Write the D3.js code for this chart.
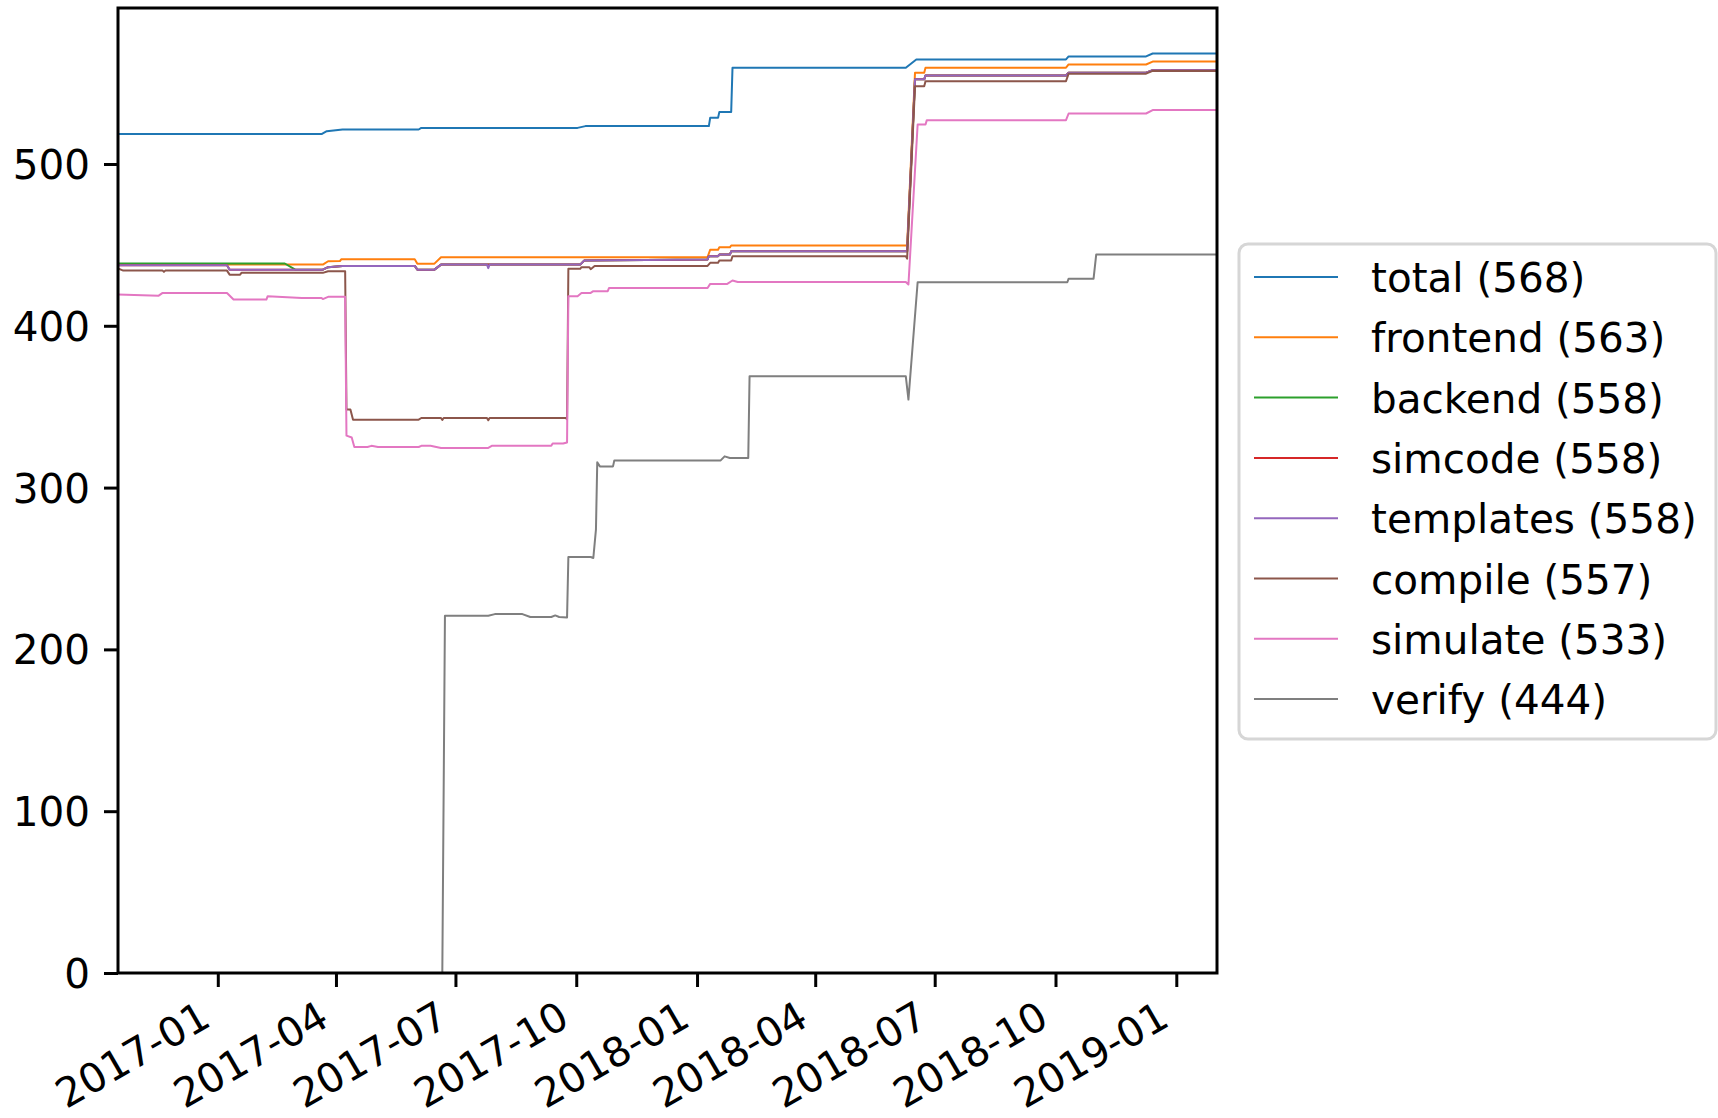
<!DOCTYPE html>
<html>
<head>
<meta charset="utf-8">
<script src="https://cdn.jsdelivr.net/npm/d3@7"></script>
<style>
  body { margin: 0; background: #fff; }
  svg { display: block; font-family: "DejaVu Sans", sans-serif; }
</style>
</head>
<body>
<div id="chart"></div>
<script>
// series names, final counts (legend) and matplotlib tab10 colours
const names = ['total', 'frontend', 'backend', 'simcode', 'templates', 'compile', 'simulate', 'verify']
const counts = [568, 563, 558, 558, 558, 557, 533, 444]
const colors = ['#1f77b4', '#ff7f0e', '#2ca02c', '#d62728', '#9467bd', '#8c564b', '#e377c2', '#7f7f7f']

// [date, number of passing tests] breakpoints
const total = [
  ['2016-10-17', 518.5], ['2017-03-21', 518.5], ['2017-03-25', 520.3], ['2017-04-06', 521.3],
  ['2017-06-03', 521.3], ['2017-06-05', 522.3], ['2017-10-02', 522.3], ['2017-10-08', 523.4],
  ['2018-01-10', 523.4], ['2018-01-11', 528.5], ['2018-01-17', 528.5], ['2018-01-18', 532.2],
  ['2018-01-27', 532.2], ['2018-01-28', 559.5], ['2018-06-09', 559.5], ['2018-06-17', 564.6],
  ['2018-10-09', 564.6], ['2018-10-11', 566.5], ['2018-12-09', 566.5], ['2018-12-14', 568.3],
  ['2019-02-01', 568.3]
]
const frontend = [
  ['2016-10-17', 437.8], ['2017-03-22', 437.8], ['2017-03-26', 439.9], ['2017-04-04', 440],
  ['2017-04-05', 441.1], ['2017-05-31', 441.1], ['2017-06-02', 438.4], ['2017-06-15', 438.4],
  ['2017-06-20', 442.4], ['2018-01-09', 442.4], ['2018-01-11', 447], ['2018-01-17', 447],
  ['2018-01-18', 448.5], ['2018-01-26', 448.5], ['2018-01-27', 449.6], ['2018-06-10', 449.6],
  ['2018-06-16', 556.4], ['2018-06-23', 556.4], ['2018-06-24', 559.5], ['2018-10-09', 559.5],
  ['2018-10-11', 561.5], ['2018-12-09', 561.5], ['2018-12-14', 563.3], ['2019-02-01', 563.3]
]
const backend = [
  ['2016-10-17', 438.5], ['2017-02-21', 438.5], ['2017-03-01', 434.7], ['2017-03-22', 434.7],
  ['2017-03-26', 436.2], ['2017-04-06', 437], ['2017-05-31', 437], ['2017-06-02', 434.7],
  ['2017-06-15', 434.7], ['2017-06-20', 437.8], ['2017-10-04', 437.8], ['2017-10-07', 440.3],
  ['2018-01-09', 441], ['2018-01-10', 443], ['2018-01-17', 443], ['2018-01-18', 444],
  ['2018-01-26', 444], ['2018-01-27', 446], ['2018-06-10', 446], ['2018-06-16', 552.3],
  ['2018-06-23', 552.3], ['2018-06-24', 554.7], ['2018-10-09', 554.7], ['2018-10-11', 556.4],
  ['2018-12-09', 556.4], ['2018-12-14', 558], ['2019-02-01', 558]
]
const simcode = [
  ['2016-10-17', 437.4], ['2017-01-08', 437.4], ['2017-01-10', 434.7], ['2017-03-22', 434.7],
  ['2017-03-26', 436.2], ['2017-04-06', 437], ['2017-05-31', 437], ['2017-06-02', 434.7],
  ['2017-06-15', 434.7], ['2017-06-20', 437.8], ['2017-10-04', 437.8], ['2017-10-07', 440.3],
  ['2018-01-09', 441], ['2018-01-10', 443], ['2018-01-17', 443], ['2018-01-18', 444],
  ['2018-01-26', 444], ['2018-01-27', 446], ['2018-06-10', 446], ['2018-06-16', 552.3],
  ['2018-06-23', 552.3], ['2018-06-24', 554.7], ['2018-10-09', 554.7], ['2018-10-11', 556.4],
  ['2018-12-09', 556.4], ['2018-12-14', 558], ['2019-02-01', 558]
]
const templates = [
  ['2016-10-17', 437.4], ['2017-01-08', 437.4], ['2017-01-10', 434.7], ['2017-03-22', 434.7],
  ['2017-03-26', 436.2], ['2017-04-06', 437], ['2017-05-31', 437], ['2017-06-02', 434.7],
  ['2017-06-15', 434.7], ['2017-06-20', 437.8], ['2017-07-25', 437.8], ['2017-07-26', 435.6],
  ['2017-07-27', 437.8], ['2017-10-04', 437.8], ['2017-10-07', 440.3], ['2018-01-09', 441],
  ['2018-01-10', 443], ['2018-01-17', 443], ['2018-01-18', 444], ['2018-01-26', 444],
  ['2018-01-27', 446], ['2018-06-10', 446], ['2018-06-16', 552.3], ['2018-06-23', 552.3],
  ['2018-06-24', 554.7], ['2018-10-09', 554.7], ['2018-10-11', 556.4], ['2018-12-09', 556.4],
  ['2018-12-14', 558], ['2019-02-01', 558]
]
const compile = [
  ['2016-10-17', 435.4], ['2016-10-21', 434.1], ['2016-11-20', 434.1], ['2016-11-21', 433.3],
  ['2016-11-22', 434.1], ['2017-01-08', 434.1], ['2017-01-10', 431.6], ['2017-01-18', 431.6],
  ['2017-01-19', 432.7], ['2017-03-22', 432.7], ['2017-03-26', 433.7], ['2017-04-08', 433.7],
  ['2017-04-09', 348.2], ['2017-04-12', 348.2], ['2017-04-14', 342], ['2017-06-03', 342],
  ['2017-06-05', 343], ['2017-06-20', 343], ['2017-06-21', 341.8], ['2017-06-22', 343],
  ['2017-07-25', 343], ['2017-07-26', 341.6], ['2017-07-27', 343], ['2017-09-23', 343],
  ['2017-09-24', 342.3], ['2017-09-25', 435.2], ['2017-10-04', 435.2], ['2017-10-05', 436.2],
  ['2017-10-11', 436.2], ['2017-10-12', 435], ['2017-10-15', 437], ['2018-01-09', 437],
  ['2018-01-11', 438.9], ['2018-01-17', 438.9], ['2018-01-18', 440.3], ['2018-01-27', 440.3],
  ['2018-01-28', 443], ['2018-06-09', 443], ['2018-06-10', 441.5], ['2018-06-16', 548.1],
  ['2018-06-23', 548.1], ['2018-06-24', 551.2], ['2018-10-09', 551.2], ['2018-10-11', 555.8],
  ['2018-12-09', 555.8], ['2018-12-14', 557.5], ['2019-02-01', 557.5]
]
const simulate = [
  ['2016-10-17', 419.3], ['2016-11-17', 418.6], ['2016-11-20', 420.3], ['2017-01-08', 420.3],
  ['2017-01-13', 416.2], ['2017-02-07', 416.2], ['2017-02-08', 418.3], ['2017-03-06', 417.2],
  ['2017-03-21', 417.2], ['2017-03-22', 416.5], ['2017-03-26', 417.9], ['2017-04-08', 417.9],
  ['2017-04-09', 332.1], ['2017-04-13', 331], ['2017-04-15', 325.1], ['2017-04-25', 325.1],
  ['2017-04-28', 325.8], ['2017-05-03', 325.1], ['2017-06-03', 325.1], ['2017-06-05', 325.8],
  ['2017-06-12', 325.8], ['2017-06-20', 324.5], ['2017-07-26', 324.5], ['2017-07-29', 325.9],
  ['2017-09-12', 325.9], ['2017-09-13', 327.2], ['2017-09-21', 327.2], ['2017-09-24', 327.9],
  ['2017-09-25', 418.3], ['2017-10-02', 418.3], ['2017-10-05', 420.3], ['2017-10-12', 420.3],
  ['2017-10-14', 421.4], ['2017-10-25', 421.4], ['2017-10-26', 423.4], ['2018-01-09', 423.4],
  ['2018-01-11', 425.9], ['2018-01-24', 425.9], ['2018-01-28', 428], ['2018-02-01', 427.1],
  ['2018-06-09', 427.1], ['2018-06-11', 425.5], ['2018-06-18', 524.4], ['2018-06-24', 524.4],
  ['2018-06-25', 527.1], ['2018-10-09', 527.1], ['2018-10-11', 531.2], ['2018-12-09', 531.2],
  ['2018-12-14', 533.3], ['2019-02-01', 533.3]
]
const verify = [
  ['2016-10-17', 0], ['2017-06-21', 0], ['2017-06-23', 220.8], ['2017-07-26', 220.8],
  ['2017-07-31', 221.8], ['2017-08-21', 221.8], ['2017-08-27', 220], ['2017-09-12', 220],
  ['2017-09-15', 221], ['2017-09-18', 220], ['2017-09-24', 219.7], ['2017-09-25', 257.1],
  ['2017-10-12', 257.1], ['2017-10-14', 256.5], ['2017-10-16', 274], ['2017-10-17', 315.6],
  ['2017-10-19', 313.1], ['2017-10-29', 313.1], ['2017-10-30', 316.8], ['2018-01-19', 316.8],
  ['2018-01-22', 319.3], ['2018-01-26', 318.3], ['2018-02-09', 318.3], ['2018-02-10', 368.8],
  ['2018-06-09', 368.8], ['2018-06-11', 354.4], ['2018-06-18', 426.9], ['2018-10-10', 426.9],
  ['2018-10-11', 429.1], ['2018-10-30', 429.1], ['2018-11-01', 444], ['2019-02-01', 444]
]

const xTicks = ['2017-01-01', '2017-04-01', '2017-07-01', '2017-10-01', '2018-01-01',
  '2018-04-01', '2018-07-01', '2018-10-01', '2019-01-01']
const yTicks = [0, 100, 200, 300, 400, 500]

const series = [total, frontend, backend, simcode, templates, compile, simulate, verify]

const width = 1718
const height = 1118
const margin = { left: 118, right: 501, top: 8, bottom: 145 }
const fontSize = 40.5
const parse = d3.utcParse('%Y-%m-%d')

const x = d3.scaleUtc()
  .domain([parse('2016-10-17'), parse('2019-02-01')])
  .range([margin.left, width - margin.right])

const y = d3.scaleLinear()
  .domain([0, d3.max(counts) * 1.05])
  .range([height - margin.bottom, margin.top])

const svg = d3.select('#chart').append('svg')
  .attr('width', width)
  .attr('height', height)

svg.append('clipPath').attr('id', 'plot')
  .append('rect')
  .attr('x', margin.left).attr('y', margin.top)
  .attr('width', width - margin.left - margin.right)
  .attr('height', height - margin.top - margin.bottom)

const line = d3.line()
  .x(d => x(parse(d[0])))
  .y(d => y(d[1]))

svg.append('g')
  .attr('clip-path', 'url(#plot)')
  .selectAll('path')
  .data(series)
  .join('path')
  .attr('d', line)
  .attr('fill', 'none')
  .attr('stroke', (d, i) => colors[i])
  .attr('stroke-width', 2)
  .attr('stroke-linejoin', 'round')

// x axis, labels turned 30 degrees; the turned box is right-aligned on the tick
const xAxis = svg.append('g')
  .attr('transform', `translate(0,${height - margin.bottom})`)
  .call(d3.axisBottom(x)
    .tickValues(xTicks.map(parse))
    .tickFormat(d3.utcFormat('%Y-%m'))
    .tickSize(14)
    .tickPadding(0))
xAxis.select('.domain').remove()
xAxis.selectAll('.tick line').attr('stroke', '#000').attr('stroke-width', 3)
xAxis.selectAll('.tick text')
  .attr('font-size', fontSize)
  .attr('font-family', '"DejaVu Sans", sans-serif')
  .attr('fill', '#000')
  .attr('text-anchor', 'end')
  .attr('y', 0)
  .attr('dy', 0)
  .attr('transform', 'translate(-5.4,51.7) rotate(-30)')

// y axis
const yAxis = svg.append('g')
  .attr('transform', `translate(${margin.left},0)`)
  .call(d3.axisLeft(y)
    .tickValues(yTicks)
    .tickSize(14)
    .tickPadding(14))
yAxis.select('.domain').remove()
yAxis.selectAll('.tick line').attr('stroke', '#000').attr('stroke-width', 3)
yAxis.selectAll('.tick text')
  .attr('font-size', fontSize)
  .attr('font-family', '"DejaVu Sans", sans-serif')
  .attr('fill', '#000')
  .attr('dy', '0.36em')

// frame
svg.append('rect')
  .attr('x', margin.left).attr('y', margin.top)
  .attr('width', width - margin.left - margin.right)
  .attr('height', height - margin.top - margin.bottom)
  .attr('fill', 'none')
  .attr('stroke', '#000')
  .attr('stroke-width', 3)

// legend
const legend = svg.append('g').attr('transform', 'translate(1239,244)')
legend.append('rect')
  .attr('width', 477).attr('height', 495)
  .attr('rx', 9)
  .attr('fill', '#fff')
  .attr('stroke', '#d6d6d6')
  .attr('stroke-width', 3)

const rows = legend.selectAll('g.row')
  .data(names)
  .join('g')
  .attr('class', 'row')
  .attr('transform', (d, i) => `translate(0,${33 + i * 60.3})`)

rows.append('line')
  .attr('x1', 15).attr('x2', 99)
  .attr('stroke', (d, i) => colors[i])
  .attr('stroke-width', 2)

rows.append('text')
  .attr('x', 132)
  .attr('y', 15)
  .attr('font-size', fontSize)
  .attr('fill', '#000')
  .text((d, i) => `${d} (${counts[i]})`)
</script>
</body>
</html>
